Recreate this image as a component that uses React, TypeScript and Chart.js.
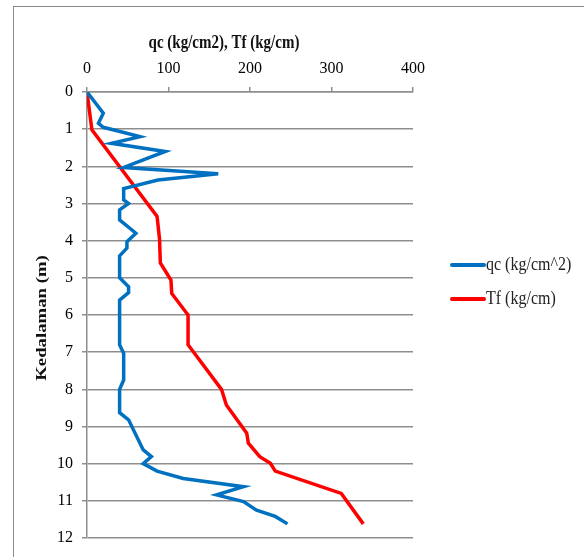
import React, { useEffect, useRef } from "react";
import { Chart, registerables } from "chart.js";

Chart.register(...registerables);

// ---- data ----
const qcDepth = [0, 0.57, 0.84, 0.95, 1.2, 1.38, 1.6, 2.03, 2.2, 2.37, 2.6, 2.9, 3.0, 3.17, 3.44, 3.8, 4.03, 4.2, 4.41, 5.0, 5.24, 5.4, 5.6, 6.8, 7.03, 7.75, 8.0, 8.63, 8.82, 9.63, 9.81, 10.0, 10.2, 10.4, 10.62, 10.84, 11.02, 11.25, 11.42, 11.62];
const qcValues = [0, 20, 14, 20, 65, 30, 96, 45, 161, 87, 45, 45, 51, 40, 40, 60, 49, 49, 40, 40, 51, 51, 40, 40, 45, 45, 40, 40, 51, 69, 79, 69, 86, 118, 192, 159, 192, 208, 231, 246];

const tfDepth = [0, 1.02, 3.35, 3.96, 4.6, 5.06, 5.42, 6.0, 6.8, 8.0, 8.42, 9.18, 9.45, 9.81, 9.99, 10.2, 10.8, 11.62];
const tfValues = [0, 6, 86, 89, 90, 103, 104, 124, 124, 165, 171, 196, 198, 212, 225, 231, 312, 339];

const xTicks = [0, 100, 200, 300, 400];
const yTicks = [0, 1, 2, 3, 4, 5, 6, 7, 8, 9, 10, 11, 12];

const seriesNames = ["qc (kg/cm^2)", "Tf (kg/cm)"];
const seriesColors = ["#0070C0", "#FF0000"];
const xTitle = "qc (kg/cm2), Tf (kg/cm)";
const yTitle = "Kedalaman (m)";

const FONT = "'Liberation Serif', 'Times New Roman', serif";
const GRID = "#8e8e8e";

const decorPlugin = {
  id: "decor",
  beforeDraw(chart: any) {
    const ctx = chart.ctx;
    ctx.save();
    ctx.fillStyle = "#ffffff";
    ctx.fillRect(0, 0, chart.width, chart.height);
    ctx.strokeStyle = "#8a8a8a";
    ctx.lineWidth = 1;
    ctx.strokeRect(13.5, 6.5, 700, 700);
    ctx.restore();
  },
  afterDraw(chart: any) {
    const ctx = chart.ctx;
    const area = chart.chartArea;
    ctx.save();
    ctx.fillStyle = "#111";
    // x title
    ctx.save();
    ctx.translate(224, 43);
    ctx.scale(1, 1.22);
    ctx.font = `bold 15px ${FONT}`;
    ctx.textAlign = "center";
    ctx.textBaseline = "middle";
    ctx.fillText(xTitle, 0, 0);
    ctx.restore();
    // y title
    ctx.save();
    ctx.translate(42, (area.top + area.bottom) / 2 + 3);
    ctx.rotate(-Math.PI / 2);
    ctx.scale(1.25, 1);
    ctx.font = `bold 15px ${FONT}`;
    ctx.textAlign = "center";
    ctx.textBaseline = "middle";
    ctx.fillText(yTitle, 0, 0);
    ctx.restore();
    // legend
    const ys = [265, 299];
    seriesNames.forEach((name, i) => {
      ctx.strokeStyle = seriesColors[i];
      ctx.lineWidth = 4;
      ctx.lineCap = "round";
      ctx.beginPath();
      ctx.moveTo(452, ys[i]);
      ctx.lineTo(484, ys[i]);
      ctx.stroke();
      ctx.save();
      ctx.translate(486, ys[i]);
      ctx.scale(1, 1.2);
      ctx.fillStyle = "#222";
      ctx.font = `16px ${FONT}`;
      ctx.textAlign = "left";
      ctx.textBaseline = "middle";
      ctx.fillText(name, 0, 0);
      ctx.restore();
    });
    ctx.restore();
  },
};

export default function App() {
  const ref = useRef<HTMLCanvasElement | null>(null);
  useEffect(() => {
    if (!ref.current) return;
    const chart = new Chart(ref.current, {
      type: "scatter",
      data: {
        datasets: [
          {
            label: seriesNames[0],
            data: qcDepth.map((d, i) => ({ x: qcValues[i], y: d })),
            showLine: true,
            borderColor: seriesColors[0],
            backgroundColor: seriesColors[0],
            borderWidth: 3.5,
            pointRadius: 0,
            tension: 0,
          },
          {
            label: seriesNames[1],
            data: tfDepth.map((d, i) => ({ x: tfValues[i], y: d })),
            showLine: true,
            borderColor: seriesColors[1],
            backgroundColor: seriesColors[1],
            borderWidth: 3.5,
            pointRadius: 0,
            tension: 0,
          },
        ],
      },
      options: {
        animation: false,
        responsive: false,
        devicePixelRatio: 1,
        layout: { padding: { left: 0, top: 0, right: 171, bottom: 19 } },
        plugins: { legend: { display: false }, tooltip: { enabled: false } },
        scales: {
          x: {
            type: "linear",
            position: "top",
            min: 0,
            max: 400,
            afterFit: (s: any) => { s.height = 92; },
            afterBuildTicks: (s: any) => { s.ticks = xTicks.map((v) => ({ value: v })); },
            ticks: { color: "#000", font: { family: FONT, size: 16 }, padding: 9 },
            grid: { display: true, drawOnChartArea: false, drawTicks: true, tickLength: 5, color: GRID, lineWidth: 1.5 },
            border: { display: true, color: GRID, width: 1.5 },
          },
          y: {
            type: "linear",
            reverse: true,
            min: 0,
            max: 12,
            afterFit: (s: any) => { s.width = 87; },
            afterBuildTicks: (s: any) => { s.ticks = yTicks.map((v) => ({ value: v })); },
            ticks: { color: "#000", font: { family: FONT, size: 16 }, padding: 9 },
            grid: { display: true, drawOnChartArea: true, drawTicks: true, tickLength: 5, color: GRID, lineWidth: 1.5 },
            border: { display: true, color: GRID, width: 1.5 },
          },
        },
      },
      plugins: [decorPlugin],
    } as any);
    return () => chart.destroy();
  }, []);
  return (
    <div style={{ position: "fixed", left: 0, top: 0, width: 584, height: 557, background: "#fff" }}>
      <canvas ref={ref} width={584} height={557} style={{ display: "block", width: 584, height: 557 }} />
    </div>
  );
}
